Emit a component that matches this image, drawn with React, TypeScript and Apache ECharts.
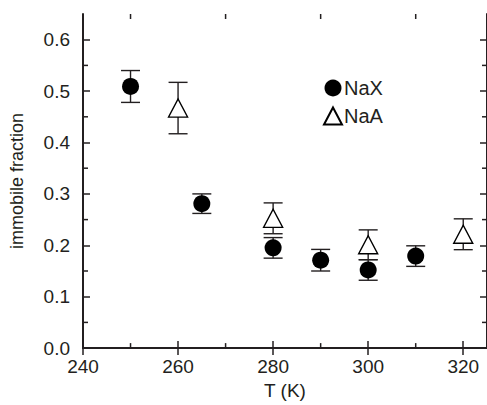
import React, { useEffect, useRef } from "react";
import * as echarts from "echarts";

// Temperatures (K) and immobile fractions with their error half-widths
const naxT = [250, 265, 280, 290, 300, 310];
const naxFrac = [0.509, 0.281, 0.195, 0.171, 0.152, 0.179];
const naxErr = [0.031, 0.019, 0.02, 0.021, 0.02, 0.02];

const naaT = [260, 280, 300, 320];
const naaFrac = [0.467, 0.2525, 0.201, 0.2215];
const naaErr = [0.05, 0.03, 0.029, 0.03];

// Axis tick positions
const xMajor = [240, 260, 280, 300, 320];
const xMinor = [250, 270, 290, 310];
const yMajor = [0, 0.1, 0.2, 0.3, 0.4, 0.5, 0.6];
const yMinor = [0.05, 0.15, 0.25, 0.35, 0.45, 0.55];

const X_MIN = 240;
const X_MAX = 325;
const Y_MIN = 0;
const Y_MAX = 0.65;

const INK = "#231f20";
const FONT = "'Liberation Sans', Arial, Helvetica, sans-serif";

export default function App() {
  const ref = useRef<HTMLDivElement>(null);

  useEffect(() => {
    if (!ref.current) return;
    const chart = echarts.init(ref.current, undefined, { renderer: "svg" });

    const errorBarItem = (params: any, api: any) => {
      const x = api.value(0);
      const y = api.value(1);
      const e = api.value(2);
      const top = api.coord([x, y + e]);
      const bot = api.coord([x, y - e]);
      const half = 9.5;
      const style = { stroke: INK, lineWidth: 1.4 };
      return {
        type: "group",
        children: [
          { type: "line", shape: { x1: top[0], y1: top[1], x2: bot[0], y2: bot[1] }, style },
          { type: "line", shape: { x1: top[0] - half, y1: top[1], x2: top[0] + half, y2: top[1] }, style },
          { type: "line", shape: { x1: bot[0] - half, y1: bot[1], x2: bot[0] + half, y2: bot[1] }, style },
        ],
      };
    };

    // Minor ticks on all four sides of the frame
    const minorTickItem = (params: any, api: any) => {
      const axis = api.value(0);
      const v = api.value(1);
      const len = 5;
      const style = { stroke: INK, lineWidth: 1.5 };
      if (axis === 0) {
        const b = api.coord([v, Y_MIN]);
        const t = api.coord([v, Y_MAX]);
        return {
          type: "group",
          children: [
            { type: "line", shape: { x1: b[0], y1: b[1], x2: b[0], y2: b[1] - len }, style },
            { type: "line", shape: { x1: t[0], y1: t[1], x2: t[0], y2: t[1] + len }, style },
          ],
        };
      }
      const l = api.coord([X_MIN, v]);
      const r = api.coord([X_MAX, v]);
      return {
        type: "group",
        children: [
          { type: "line", shape: { x1: l[0], y1: l[1], x2: l[0] + len, y2: l[1] }, style },
          { type: "line", shape: { x1: r[0], y1: r[1], x2: r[0] - len, y2: r[1] }, style },
        ],
      };
    };

    const baseX = {
      type: "value" as const,
      min: X_MIN,
      max: X_MAX,
      splitLine: { show: false },
      axisLine: { show: true, lineStyle: { color: INK, width: 2 } },
      axisTick: {
        show: true,
        inside: true,
        length: 7,
        customValues: xMajor,
        lineStyle: { color: INK, width: 1.5 },
      },
    };
    const baseY = {
      type: "value" as const,
      min: Y_MIN,
      max: Y_MAX,
      splitLine: { show: false },
      axisLine: { show: true, lineStyle: { color: INK, width: 2 } },
      axisTick: {
        show: true,
        inside: true,
        length: 7,
        customValues: yMajor,
        lineStyle: { color: INK, width: 1.5 },
      },
    };

    chart.setOption({
      animation: false,
      backgroundColor: "#ffffff",
      textStyle: { fontFamily: FONT, color: INK },
      grid: { left: 82, top: 14, width: 406, height: 338, containLabel: false },
      legend: {
        data: ["NaX", "NaA"],
        orient: "vertical",
        left: 323,
        top: 78,
        padding: 0,
        itemWidth: 18,
        itemHeight: 17,
        itemGap: 8,
        textStyle: { fontFamily: FONT, fontSize: 20, color: INK, padding: [0, 0, 0, -3] },
      },
      xAxis: [
        {
          ...baseX,
          position: "bottom",
          name: "T (K)",
          nameLocation: "middle",
          nameGap: 32,
          nameTextStyle: { fontFamily: FONT, fontSize: 19, color: INK },
          axisLabel: {
            show: true,
            customValues: xMajor,
            margin: 9,
            fontSize: 19,
            fontFamily: FONT,
            color: INK,
          },
        },
        { ...baseX, position: "top", axisLabel: { show: false } },
      ],
      yAxis: [
        {
          ...baseY,
          position: "left",
          name: "immobile fraction",
          nameLocation: "middle",
          nameGap: 57,
          nameTextStyle: { fontFamily: FONT, fontSize: 18, color: INK },
          axisLabel: {
            show: true,
            customValues: yMajor,
            margin: 13,
            fontSize: 19,
            fontFamily: FONT,
            color: INK,
            formatter: (v: number) => v.toFixed(1),
          },
        },
        { ...baseY, position: "right", axisLabel: { show: false } },
      ],
      series: [
        {
          type: "custom",
          name: "minor-ticks",
          xAxisIndex: 0,
          yAxisIndex: 0,
          clip: false,
          silent: true,
          renderItem: minorTickItem,
          data: [...xMinor.map((v) => [0, v]), ...yMinor.map((v) => [1, v])],
          z: 1,
        },
        {
          type: "custom",
          name: "NaX-err",
          renderItem: errorBarItem,
          data: naxT.map((t, i) => [t, naxFrac[i], naxErr[i]]),
          z: 2,
        },
        {
          type: "custom",
          name: "NaA-err",
          renderItem: errorBarItem,
          data: naaT.map((t, i) => [t, naaFrac[i], naaErr[i]]),
          z: 2,
        },
        {
          type: "scatter",
          name: "NaX",
          symbol: "circle",
          symbolSize: 17,
          itemStyle: { color: "#000000", opacity: 1, borderWidth: 0 },
          data: naxT.map((t, i) => [t, naxFrac[i]]),
          z: 3,
        },
        {
          type: "scatter",
          name: "NaA",
          symbol: "triangle",
          symbolSize: [19, 18],
          itemStyle: { color: "#ffffff", opacity: 1, borderColor: "#000000", borderWidth: 1.4 },
          data: naaT.map((t, i) => [t, naaFrac[i]]),
          z: 3,
        },
      ],
    });

    return () => chart.dispose();
  }, []);

  return (
    <div
      ref={ref}
      style={{ position: "absolute", left: 0, top: 0, width: 487, height: 405 }}
    />
  );
}
